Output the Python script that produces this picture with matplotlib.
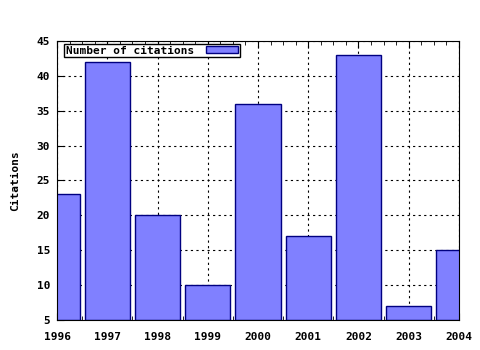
import matplotlib
matplotlib.use("Agg")
import matplotlib.pyplot as plt
from matplotlib.ticker import MultipleLocator

years = [1996, 1997, 1998, 1999, 2000, 2001, 2002, 2003, 2004]
citations = [23, 42, 20, 10, 36, 17, 43, 7, 15]

plt.rcParams['font.family'] = 'DejaVu Sans Mono'
plt.rcParams['font.weight'] = 'bold'

fig = plt.figure(figsize=(4.8, 3.5), dpi=100)
ax = fig.add_axes([0.119, 0.086, 0.837, 0.797])

ax.bar(years, [c - 5 for c in citations], bottom=5, width=0.9,
       color='#8080ff', edgecolor='#000080', linewidth=1,
       label='Number of citations', zorder=2)

ax.set_xlim(1996, 2004)
ax.set_ylim(5, 45)
ax.set_xticks(years)
ax.xaxis.set_minor_locator(MultipleLocator(0.25))
ax.set_yticks(range(5, 46, 5))
ax.grid(True, which='major', color='black', linestyle=(0, (2, 3)), linewidth=0.8, zorder=1)
ax.tick_params(axis='both', which='both', direction='in', labelsize=8, top=True, right=False)
ax.tick_params(axis='x', which='major', length=5, pad=9)
ax.tick_params(axis='x', which='minor', length=3)
ax.tick_params(axis='y', length=5, pad=5)
ax.set_axisbelow(True)

ax.set_ylabel('Citations', fontsize=8, fontweight='bold')
ax.yaxis.set_label_coords(-0.093, 0.5)

leg = ax.legend(loc='upper left', bbox_to_anchor=(7 / 402, 1 - 3 / 279),
                fontsize=8, frameon=True, fancybox=False,
                borderpad=0.15, handlelength=2.9, handleheight=0.55,
                markerfirst=False, borderaxespad=0, handletextpad=1.1)
leg.get_frame().set_edgecolor('black')
leg.get_frame().set_linewidth(1)
leg.get_frame().set_alpha(1)

fig.savefig('out.png', dpi=100)
